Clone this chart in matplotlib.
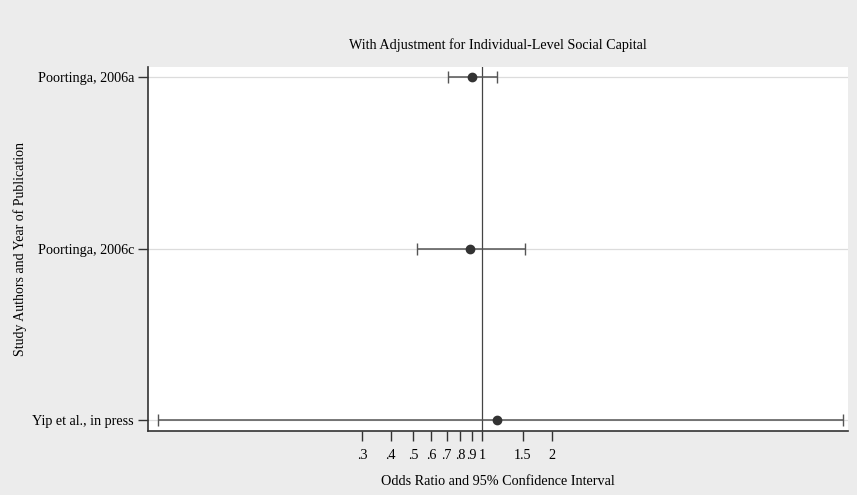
import matplotlib
matplotlib.use("Agg")
import matplotlib.pyplot as plt
import numpy as np

studies = ["Poortinga, 2006a", "Poortinga, 2006c", "Yip et al., in press"]
odds_ratio = [0.90, 0.885, 1.16]
ci_low = [0.71, 0.52, 0.039]
ci_high = [1.16, 1.53, 36.7]
xtick_vals = [0.3, 0.4, 0.5, 0.6, 0.7, 0.8, 0.9, 1, 1.5, 2]
xtick_labels = [".3", ".4", ".5", ".6", ".7", ".8", ".9", "1", "1.5", "2"]

plt.rcParams['font.family'] = ['Liberation Serif', 'DejaVu Serif']

bg = "#ececec"
fig = plt.figure(figsize=(8.57, 4.95), dpi=100, facecolor=bg)
ax = fig.add_axes([148/857, 1 - 430.5/495, (848-148)/857, (430.5-67)/495])
ax.set_facecolor("white")

y = np.arange(1, len(studies) + 1)
for yi in y:
    ax.axhline(yi, color="#dcdcdc", lw=0.9, zorder=1)
ax.axvline(1, color="#444444", lw=0.9, zorder=2)

err = [np.array(odds_ratio) - np.array(ci_low), np.array(ci_high) - np.array(odds_ratio)]
ax.errorbar(odds_ratio, y, xerr=err, fmt="none", ecolor="#555555", elinewidth=1.1,
            capsize=4, capthick=1.0, zorder=3)
ax.plot(odds_ratio, y, "o", color="#333333", markersize=6, zorder=4)

ax.set_xscale("log")
ax.set_xlim(0.0353, 38.7)
ax.set_ylim(3.06, 0.94)
ax.set_xticks(xtick_vals)
ax.set_xticklabels(xtick_labels)
ax.xaxis.set_minor_locator(matplotlib.ticker.NullLocator())
ax.set_yticks(y)
ax.set_yticklabels(studies)

for s in ["top", "right"]:
    ax.spines[s].set_visible(False)
for s in ["left", "bottom"]:
    ax.spines[s].set_color("#333333")
    ax.spines[s].set_linewidth(1.2)

ax.tick_params(axis="both", direction="out", length=7, width=1.0, color="#333333",
               labelsize=10.2, labelcolor="black")
ax.tick_params(axis="x", pad=6)
ax.tick_params(axis="y", pad=3)

ax.set_title("With Adjustment for Individual-Level Social Capital", fontsize=10.2, pad=13)
ax.set_xlabel("Odds Ratio and 95% Confidence Interval", fontsize=10.2, labelpad=10)
ax.set_ylabel("Study Authors and Year of Publication", fontsize=10, labelpad=4)

fig.savefig("out.png", dpi=100, facecolor=bg)
